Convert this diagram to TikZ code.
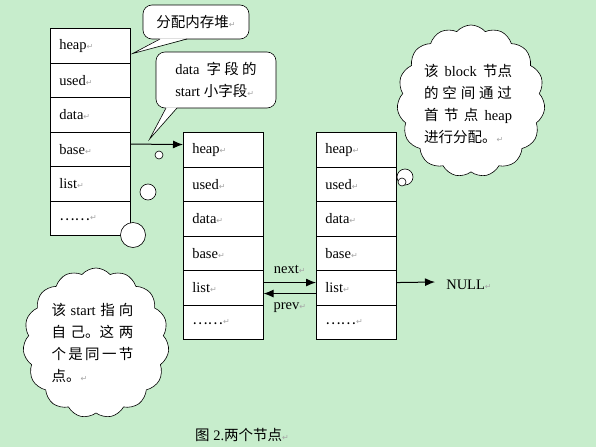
\documentclass[tikz,border=0pt]{standalone}
\usepackage{fontspec}
\setmainfont{Liberation Serif}
\newfontfamily\cjk{Noto Sans CJK SC}
\newfontfamily\symf{DejaVu Sans}
\usetikzlibrary{arrows.meta,shapes.symbols}
\definecolor{bggreen}{RGB}{199,237,204}
\newcommand{\retmark}{{\symf\color{gray!70}\fontsize{8pt}{8pt}\selectfont ↵}}
\newcommand{\rowdots}{{\cjk ……}}
\newcommand{\spread}[2]{\makebox[#1][s]{#2}}
\begin{document}
\begin{tikzpicture}[x=1pt,y=-1pt,font=\fontsize{14.5pt}{22pt}\selectfont,line width=0.6pt,
 cell/.style={draw,fill=white,rectangle,minimum height=34.5pt,text width=62pt,inner xsep=9pt,inner ysep=0pt,align=left,anchor=north west},
 ptr/.style={line width=1pt,-{Latex[length=10pt,width=8pt]}},
 bubble/.style={draw,fill=white,rounded corners=9pt},
 thought/.style={draw,fill=white,cloud,cloud puffs=15,cloud puff arc=100,cloud ignores aspect,inner sep=0pt},
 puff/.style={draw,fill=white,circle,inner sep=0pt}]
\fill[bggreen](0,0)rectangle(596,447);
\useasboundingbox(0,0)rectangle(596,447);
% three blocks
\foreach \t [count=\i] in {heap,used,data,base,list,\rowdots}{
 \node[cell](a\i)at(50,{28+34.5*(\i-1)}){\t\retmark};
 \node[cell](b\i)at(183,{132+34.5*(\i-1)}){\t\retmark};
 \node[cell](c\i)at(316,{132+34.5*(\i-1)}){\t\retmark};}
\node[anchor=west,inner sep=0pt](null)at(446,285){NULL\retmark};
\draw[ptr]([yshift=5pt]a4.east)--([yshift=5pt]b1.west);
\draw[ptr]([yshift=5pt]b5.east)--([yshift=5pt]c5.west)node[midway,above=5pt]{next\retmark};
\draw[ptr]([yshift=-6pt]c5.west)--([yshift=-6pt]b5.east)node[midway,below=5pt]{prev\retmark};
\draw[ptr]([yshift=5pt]c5.east)--([xshift=-11pt,yshift=3pt]null.west);
% callouts
\node[bubble,minimum width=106pt,minimum height=34pt](heapnote)at(196,22){{\cjk 分配内存堆}\retmark};
\coordinate(tip1)at([xshift=2pt,yshift=-8pt]a1.east);
\fill[white]([xshift=-36pt,yshift=1pt]heapnote.south)--(tip1)--([xshift=-9pt,yshift=1pt]heapnote.south)--cycle;
\draw([xshift=-36pt,yshift=0.3pt]heapnote.south)--(tip1)--([xshift=-9pt,yshift=0.3pt]heapnote.south);
\node[bubble,minimum width=120pt,minimum height=56pt,align=left](datanote)at(216,80){data\ \ \spread{50pt}{\cjk 字 段 的}\\start {\cjk 小字段}\retmark};
\coordinate(tip2)at([xshift=19pt,yshift=10pt]a4.east);
\fill[white]([xshift=-50pt,yshift=1pt]datanote.south)--(tip2)--([xshift=-39pt,yshift=1pt]datanote.south)--cycle;
\draw([xshift=-50pt,yshift=0.3pt]datanote.south)--(tip2)--([xshift=-39pt,yshift=0.3pt]datanote.south);
% thought clouds
\node[thought,minimum width=148pt,minimum height=152pt](blocknote)at(471,101){};
\node[align=left,inner sep=0pt](blocktext)at([xshift=-3pt,yshift=-3pt]blocknote.center){\spread{88pt}{{\cjk 该} block {\cjk 节点}}\\\spread{88pt}{\cjk 的 空 间 通 过}\\\spread{88pt}{{\cjk 首 节 点} heap}\\{\cjk 进行分配。}\retmark};
\node[puff,minimum size=16pt](q1)at(405,177){};
\node[puff,minimum size=8pt](q2)at(402,182){};
\node[thought,minimum width=146pt,minimum height=150pt](selfnote)at(96,343){};
\node[align=left,inner sep=0pt](selftext)at([xshift=-3.5pt]selfnote.center){\spread{82pt}{{\cjk 该} start {\cjk 指 向}}\\\spread{82pt}{\cjk 自 己。这 两}\\\spread{82pt}{\cjk 个 是 同 一 节}\\{\cjk 点。}\retmark};
\node[puff,minimum size=25pt](p1)at(133,235){};
\node[puff,minimum size=16pt](p2)at(148,192){};
\node[puff,minimum size=8pt](p3)at(159,155){};
\node(caption)at(242,435){{\cjk 图} 2.{\cjk 两个节点}\retmark};
\end{tikzpicture}
\end{document}
